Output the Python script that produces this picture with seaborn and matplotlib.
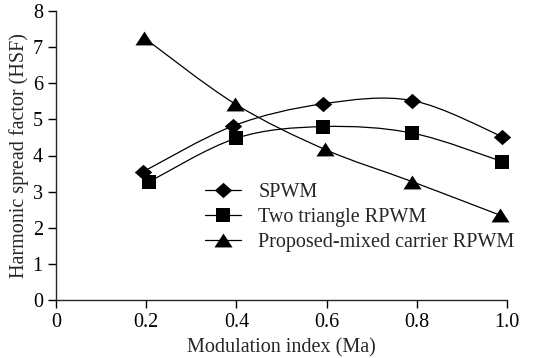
import numpy as np
import pandas as pd
import seaborn as sns
import matplotlib
matplotlib.use("Agg")
import matplotlib.pyplot as plt
from matplotlib.path import Path
from matplotlib.patches import PathPatch
from matplotlib.lines import Line2D

# ---- data ----
series_names = ["SPWM", "Two triangle RPWM", "Proposed-mixed carrier RPWM"]
x_spwm = [0.193, 0.393, 0.592, 0.79, 0.99]
y_spwm = [3.55, 4.82, 5.43, 5.52, 4.52]
x_two = [0.206, 0.40, 0.592, 0.79, 0.99]
y_two = [3.27, 4.48, 4.80, 4.62, 3.83]
x_prop = [0.195, 0.397, 0.596, 0.789, 0.984]
y_prop = [7.26, 5.43, 4.17, 3.28, 2.35]
x_ticks = [0, 0.2, 0.4, 0.6, 0.8, 1.0]
x_tick_labels = ["0", "0.2", "0.4", "0.6", "0.8", "1.0"]
y_ticks = [0, 1, 2, 3, 4, 5, 6, 7, 8]

diamond = [(0, 1), (1.13, 0), (0, -1), (-1.13, 0), (0, 1)]
triangle = [(0, 1), (1.3, -1), (-1.3, -1), (0, 1)]
markers = [diamond, "s", triangle]
marker_sizes = [12.5, 10, 13]

FS = 14.5

sns.set_style("ticks")
plt.rcParams["font.family"] = ["Liberation Serif", "DejaVu Serif"]

fig = plt.figure(figsize=(5.51, 3.58), dpi=100)
ax = fig.add_axes([56 / 551, 1 - 300 / 358, (507 - 56) / 551, (300 - 11) / 358])

xs_all = [x_spwm, x_two, x_prop]
ys_all = [y_spwm, y_two, y_prop]

rows = []
for name, xs, ys in zip(series_names, xs_all, ys_all):
    for a, b in zip(xs, ys):
        rows.append({"series": name, "x": a, "y": b})
df = pd.DataFrame(rows)


def smooth_path(xs, ys):
    pts = np.column_stack([xs, ys])
    n = len(pts)
    verts = [pts[0]]
    codes = [Path.MOVETO]
    for i in range(n - 1):
        p0 = pts[i - 1] if i > 0 else pts[i]
        p1 = pts[i]
        p2 = pts[i + 1]
        p3 = pts[i + 2] if i + 2 < n else pts[i + 1]
        c1 = p1 + (p2 - p0) / 6.0
        c2 = p2 - (p3 - p1) / 6.0
        verts += [c1, c2, p2]
        codes += [Path.CURVE4] * 3
    return Path(verts, codes)


for xs, ys in zip(xs_all, ys_all):
    patch = PathPatch(smooth_path(xs, ys), facecolor="none", edgecolor="black",
                      linewidth=0.9, transform=ax.transData, clip_on=False, zorder=2)
    ax.add_patch(patch)

for name, m, ms in zip(series_names, markers, marker_sizes):
    sub = df[df["series"] == name]
    sns.scatterplot(data=sub, x="x", y="y", marker=m, s=ms ** 2, color="black",
                    edgecolor="black", linewidth=0, ax=ax, clip_on=False, zorder=3,
                    legend=False)

ax.set_xlim(0, 1.0)
ax.set_ylim(0, 8)
ax.set_xticks(x_ticks)
ax.set_xticklabels(x_tick_labels)
ax.set_yticks(y_ticks)
sns.despine(ax=ax)
for s in ["left", "bottom"]:
    ax.spines[s].set_linewidth(1.0)
ax.tick_params(axis="both", direction="out", length=5.5, width=1.0, labelsize=FS,
               colors="black")
ax.tick_params(axis="x", pad=4)
ax.tick_params(axis="y", pad=4)
ax.set_xlabel("Modulation index (Ma)", fontsize=FS, labelpad=4)
ax.set_ylabel("Harmonic spread factor (HSF)", fontsize=FS, labelpad=3)

handles = [Line2D([], [], color="black", linewidth=0.9, marker=m, markersize=ms,
                  markeredgewidth=0)
           for m, ms in zip(markers, marker_sizes)]
leg = ax.legend(handles, series_names, loc="upper left",
                bbox_to_anchor=(205 / 551, 1 - 183 / 358),
                bbox_transform=fig.transFigure, frameon=False, fontsize=FS,
                handlelength=1.8, handletextpad=0.85, labelspacing=0.3,
                borderaxespad=0, borderpad=0)

fig.savefig("out.png", dpi=100)
